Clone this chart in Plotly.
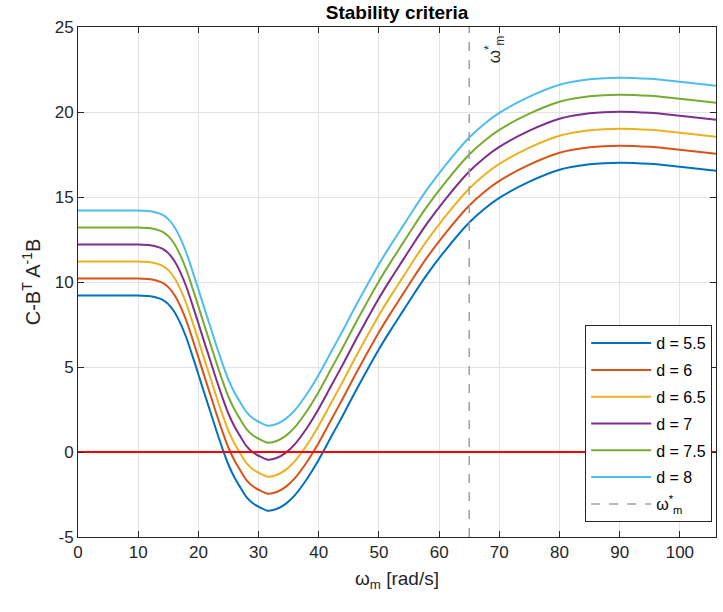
import plotly.graph_objects as go

# omega_m sample points [rad/s]
omega = [0, 5, 10, 12, 13, 14, 15, 16, 17, 18, 19, 20, 21, 22, 23, 24, 25, 26, 27, 28, 29, 30,
         31.5, 33, 34.5, 36, 38, 40, 42, 44, 46, 48, 50, 52, 54, 56, 58, 61, 65, 67.5, 70, 75,
         80, 85, 90, 95, 100, 106]

d_labels = ["d = 5.5", "d = 6", "d = 6.5", "d = 7", "d = 7.5", "d = 8"]

y_d55 = [9.2, 9.2, 9.2, 9.16, 9.09, 8.96, 8.7, 8.25, 7.58, 6.72, 5.67, 4.57, 3.45, 2.35, 1.25, 0.2,
         -0.75, -1.5, -2.1, -2.65, -3.0, -3.22, -3.45, -3.35, -3.05, -2.55, -1.6, -0.45, 0.85, 2.15,
         3.5, 4.8, 6.05, 7.2, 8.3, 9.4, 10.45, 11.85, 13.5, 14.3, 14.95, 15.9, 16.6, 16.92, 17.02,
         16.95, 16.78, 16.55]
y_d60 = [10.2, 10.2, 10.2, 10.16, 10.09, 9.96, 9.7, 9.25, 8.58, 7.72, 6.67, 5.57, 4.45, 3.35, 2.25,
         1.2, 0.25, -0.5, -1.1, -1.65, -2.0, -2.22, -2.45, -2.35, -2.05, -1.55, -0.6, 0.55, 1.85,
         3.15, 4.5, 5.8, 7.05, 8.2, 9.3, 10.4, 11.45, 12.85, 14.5, 15.3, 15.95, 16.9, 17.6, 17.92,
         18.02, 17.95, 17.78, 17.55]
y_d65 = [11.2, 11.2, 11.2, 11.16, 11.09, 10.96, 10.7, 10.25, 9.58, 8.72, 7.67, 6.57, 5.45, 4.35,
         3.25, 2.2, 1.25, 0.5, -0.1, -0.65, -1.0, -1.22, -1.45, -1.35, -1.05, -0.55, 0.4, 1.55,
         2.85, 4.15, 5.5, 6.8, 8.05, 9.2, 10.3, 11.4, 12.45, 13.85, 15.5, 16.3, 16.95, 17.9, 18.6,
         18.92, 19.02, 18.95, 18.78, 18.55]
y_d70 = [12.2, 12.2, 12.2, 12.16, 12.09, 11.96, 11.7, 11.25, 10.58, 9.72, 8.67, 7.57, 6.45, 5.35,
         4.25, 3.2, 2.25, 1.5, 0.9, 0.35, 0.0, -0.22, -0.45, -0.35, -0.05, 0.45, 1.4, 2.55, 3.85,
         5.15, 6.5, 7.8, 9.05, 10.2, 11.3, 12.4, 13.45, 14.85, 16.5, 17.3, 17.95, 18.9, 19.6,
         19.92, 20.02, 19.95, 19.78, 19.55]
y_d75 = [13.2, 13.2, 13.2, 13.16, 13.09, 12.96, 12.7, 12.25, 11.58, 10.72, 9.67, 8.57, 7.45, 6.35,
         5.25, 4.2, 3.25, 2.5, 1.9, 1.35, 1.0, 0.78, 0.55, 0.65, 0.95, 1.45, 2.4, 3.55, 4.85, 6.15,
         7.5, 8.8, 10.05, 11.2, 12.3, 13.4, 14.45, 15.85, 17.5, 18.3, 18.95, 19.9, 20.6, 20.92,
         21.02, 20.95, 20.78, 20.55]
y_d80 = [14.2, 14.2, 14.2, 14.16, 14.09, 13.96, 13.7, 13.25, 12.58, 11.72, 10.67, 9.57, 8.45, 7.35,
         6.25, 5.2, 4.25, 3.5, 2.9, 2.35, 2.0, 1.78, 1.55, 1.65, 1.95, 2.45, 3.4, 4.55, 5.85, 7.15,
         8.5, 9.8, 11.05, 12.2, 13.3, 14.4, 15.45, 16.85, 18.5, 19.3, 19.95, 20.9, 21.6, 21.92,
         22.02, 21.95, 21.78, 21.55]

series = [y_d55, y_d60, y_d65, y_d70, y_d75, y_d80]
colors = ["#0072BD", "#D95319", "#EDB120", "#7E2F8E", "#77AC30", "#4DBEEE"]

zero_x = [0, 106]
zero_y = [0, 0]
omega_star = 65
omega_star_x = [omega_star, omega_star]
omega_star_y = [-5, 25]

x_range = [0, 106]
y_range = [-5, 25]
x_ticks = [0, 10, 20, 30, 40, 50, 60, 70, 80, 90, 100]
y_ticks = [-5, 0, 5, 10, 15, 20, 25]
y_ticktext = ["-5", "0", "5", "10", "15", "20", "25"]

FONT = "Liberation Sans"
AX = "#262626"

fig = go.Figure()
for i, (lab, ys, c) in enumerate(zip(d_labels, series, colors)):
    fig.add_trace(go.Scatter(x=omega, y=ys, mode="lines", name=lab,
                             line=dict(color=c, width=2, shape="spline", smoothing=0.9),
                             legendgroup=f"g{i}"))

fig.add_trace(go.Scatter(x=zero_x, y=zero_y, mode="lines", showlegend=False,
                         line=dict(color="#FF0000", width=2)))
fig.add_trace(go.Scatter(x=omega_star_x, y=omega_star_y, mode="lines",
                         name="ω<sup>*</sup><sub>m</sub>", legendgroup="g6",
                         line=dict(color="#a0a0a0", width=1.5, dash="dash")))

fig.add_annotation(x=omega_star, y=23.7, xref="x", yref="y", xshift=25,
                   text="ω<sup>*</sup><sub>m</sub>", showarrow=False, textangle=-90,
                   font=dict(family=FONT, size=17, color=AX))

axis_common = dict(showline=True, linecolor=AX, linewidth=1, mirror="ticks",
                   ticks="inside", ticklen=6, tickcolor=AX, showgrid=True,
                   gridcolor="#e3e3e3", gridwidth=1, zeroline=False, automargin=False,
                   tickfont=dict(family=FONT, size=17, color=AX))

fig.update_layout(
    width=723, height=612,
    margin=dict(l=78, r=7, t=27, b=75, autoexpand=False),
    paper_bgcolor="white", plot_bgcolor="white",
    font=dict(family=FONT, color=AX),
    title=dict(text="<b>Stability criteria</b>", x=0.5, xref="paper", y=1 - 12 / 612,
               yref="container", xanchor="center", yanchor="middle",
               font=dict(family=FONT, size=19, color="black")),
    xaxis=dict(range=x_range, tickvals=x_ticks,
               title=dict(text="ω<sub>m</sub> [rad/s]", font=dict(family=FONT, size=19, color=AX),
                          standoff=10),
               **axis_common),
    yaxis=dict(range=y_range, tickvals=y_ticks, ticktext=y_ticktext,
               title=dict(text="C-B<sup>T</sup> A<sup>-1</sup>B",
                          font=dict(family=FONT, size=20, color=AX), standoff=8),
               **axis_common),
    legend=dict(x=0.994, y=0.029, xanchor="right", yanchor="bottom",
                bordercolor=AX, borderwidth=1, bgcolor="white",
                font=dict(family=FONT, size=16, color="black"),
                itemwidth=60,
                traceorder="grouped", tracegroupgap=3),
    showlegend=True,
)

fig.write_html("out.html", config={"displayModeBar": False},
               post_script="document.body.style.margin='0';document.body.style.padding='0';")
